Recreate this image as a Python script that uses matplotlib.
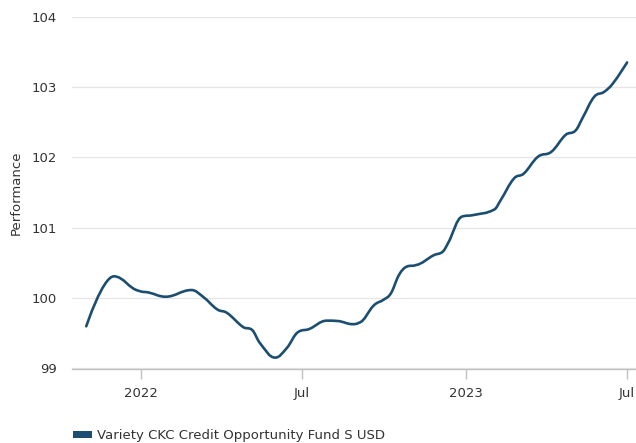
import numpy as np
import pandas as pd
import matplotlib
matplotlib.use("Agg")
import matplotlib.pyplot as plt
import matplotlib.dates as mdates
from matplotlib.path import Path
from matplotlib.patches import PathPatch, Patch

# Dados
datas = ["2021-11-01", "2021-12-02", "2021-12-30", "2022-01-10", "2022-01-29",
         "2022-02-27", "2022-03-12", "2022-03-28", "2022-04-08", "2022-04-26",
         "2022-05-06", "2022-05-15", "2022-06-01", "2022-06-14", "2022-06-27",
         "2022-07-09", "2022-07-29", "2022-08-10", "2022-08-27", "2022-09-03",
         "2022-09-20", "2022-10-01", "2022-10-09", "2022-10-18", "2022-10-27",
         "2022-11-06", "2022-11-26", "2022-12-06", "2022-12-12", "2022-12-28",
         "2023-01-09", "2023-02-02", "2023-02-09", "2023-02-24", "2023-03-07",
         "2023-03-23", "2023-04-07", "2023-04-23", "2023-05-04", "2023-05-12",
         "2023-05-25", "2023-06-05", "2023-06-15", "2023-07-01"]
valores = [99.60, 100.31, 100.105, 100.08, 100.02,
           100.115, 100.02, 99.84, 99.79, 99.59,
           99.55, 99.36, 99.155, 99.29, 99.52,
           99.56, 99.68, 99.675, 99.63, 99.65,
           99.90, 99.98, 100.07, 100.33, 100.45,
           100.47, 100.61, 100.66, 100.78, 101.16,
           101.18, 101.26, 101.39, 101.70, 101.77,
           102.01, 102.08, 102.32, 102.38, 102.56,
           102.86, 102.93, 103.05, 103.35]
serie = "Variety CKC Credit Opportunity Fund S USD"
yticks = [99, 100, 101, 102, 103, 104]
xticks = ["2022-01-01", "2022-07-01", "2023-01-01", "2023-07-01"]
xticklabels = ["2022", "Jul", "2023", "Jul"]

cor = "#1c4e72"

x = mdates.date2num(pd.to_datetime(datas))
y = np.array(valores)


# curva suavizada estilo spline (pontos de controle de Bezier)
def spline_path(x, y, smooth=1.5):
    verts = [(x[0], y[0])]
    codes = [Path.MOVETO]
    n = len(x)
    ctrl = []
    for i in range(n):
        if i == 0 or i == n - 1:
            ctrl.append(((x[i], y[i]), (x[i], y[i])))
            continue
        lx = (smooth * x[i] + x[i - 1]) / (smooth + 1)
        ly = (smooth * y[i] + y[i - 1]) / (smooth + 1)
        rx = (smooth * x[i] + x[i + 1]) / (smooth + 1)
        ry = (smooth * y[i] + y[i + 1]) / (smooth + 1)
        if rx != lx:
            corr = (ry - ly) * (rx - x[i]) / (rx - lx) + y[i] - ry
            ly += corr
            ry += corr
        if ly > y[i - 1] and ly > y[i]:
            ly = max(y[i - 1], y[i])
            ry = 2 * y[i] - ly
        elif ly < y[i - 1] and ly < y[i]:
            ly = min(y[i - 1], y[i])
            ry = 2 * y[i] - ly
        if ry > y[i + 1] and ry > y[i]:
            ry = max(y[i + 1], y[i])
            ly = 2 * y[i] - ry
        elif ry < y[i + 1] and ry < y[i]:
            ry = min(y[i + 1], y[i])
            ly = 2 * y[i] - ry
        ctrl.append(((lx, ly), (rx, ry)))
    for i in range(1, n):
        verts += [ctrl[i - 1][1], ctrl[i][0], (x[i], y[i])]
        codes += [Path.CURVE4] * 3
    return Path(verts, codes)


fig = plt.figure(figsize=(6.36, 4.43), dpi=100)
ax = fig.add_axes([72 / 636, (443 - 368.5) / 443, 564 / 636, (368.5 - 16.7) / 443])

ax.add_patch(PathPatch(spline_path(x, y), facecolor="none", edgecolor=cor,
                       lw=1.9, capstyle="round", joinstyle="round"))

ax.set_xlim(mdates.date2num(pd.Timestamp("2021-10-16")),
            mdates.date2num(pd.Timestamp("2023-07-11")))
ax.set_ylim(99, 104)

ax.set_yticks(yticks)
ax.set_yticklabels([str(v) for v in yticks])
ax.set_xticks(mdates.date2num(pd.to_datetime(xticks)))
ax.set_xticklabels(xticklabels)

ax.grid(axis="y", color="#e6e6e6", lw=1)
ax.set_axisbelow(True)
for s in ["top", "right", "left"]:
    ax.spines[s].set_visible(False)
ax.spines["bottom"].set_color("#c0c0c0")
ax.spines["bottom"].set_linewidth(1)

ax.tick_params(axis="y", length=0, pad=11, labelsize=9.5, labelcolor="#333333")
ax.tick_params(axis="x", length=7, width=1, color="#c0c0c0", pad=6,
               labelsize=9.5, labelcolor="#333333")

ax.set_ylabel("Performance", fontsize=9.5, color="#333333", labelpad=6)

fig.legend(handles=[Patch(facecolor=cor, edgecolor="none")], labels=[serie],
           loc="center left", bbox_to_anchor=(61 / 636, 1 - 436 / 443),
           frameon=False, fontsize=9.5, handlelength=1.45, handleheight=0.45,
           handletextpad=0.38, labelcolor="#333333")

fig.savefig("out.png", dpi=100)
